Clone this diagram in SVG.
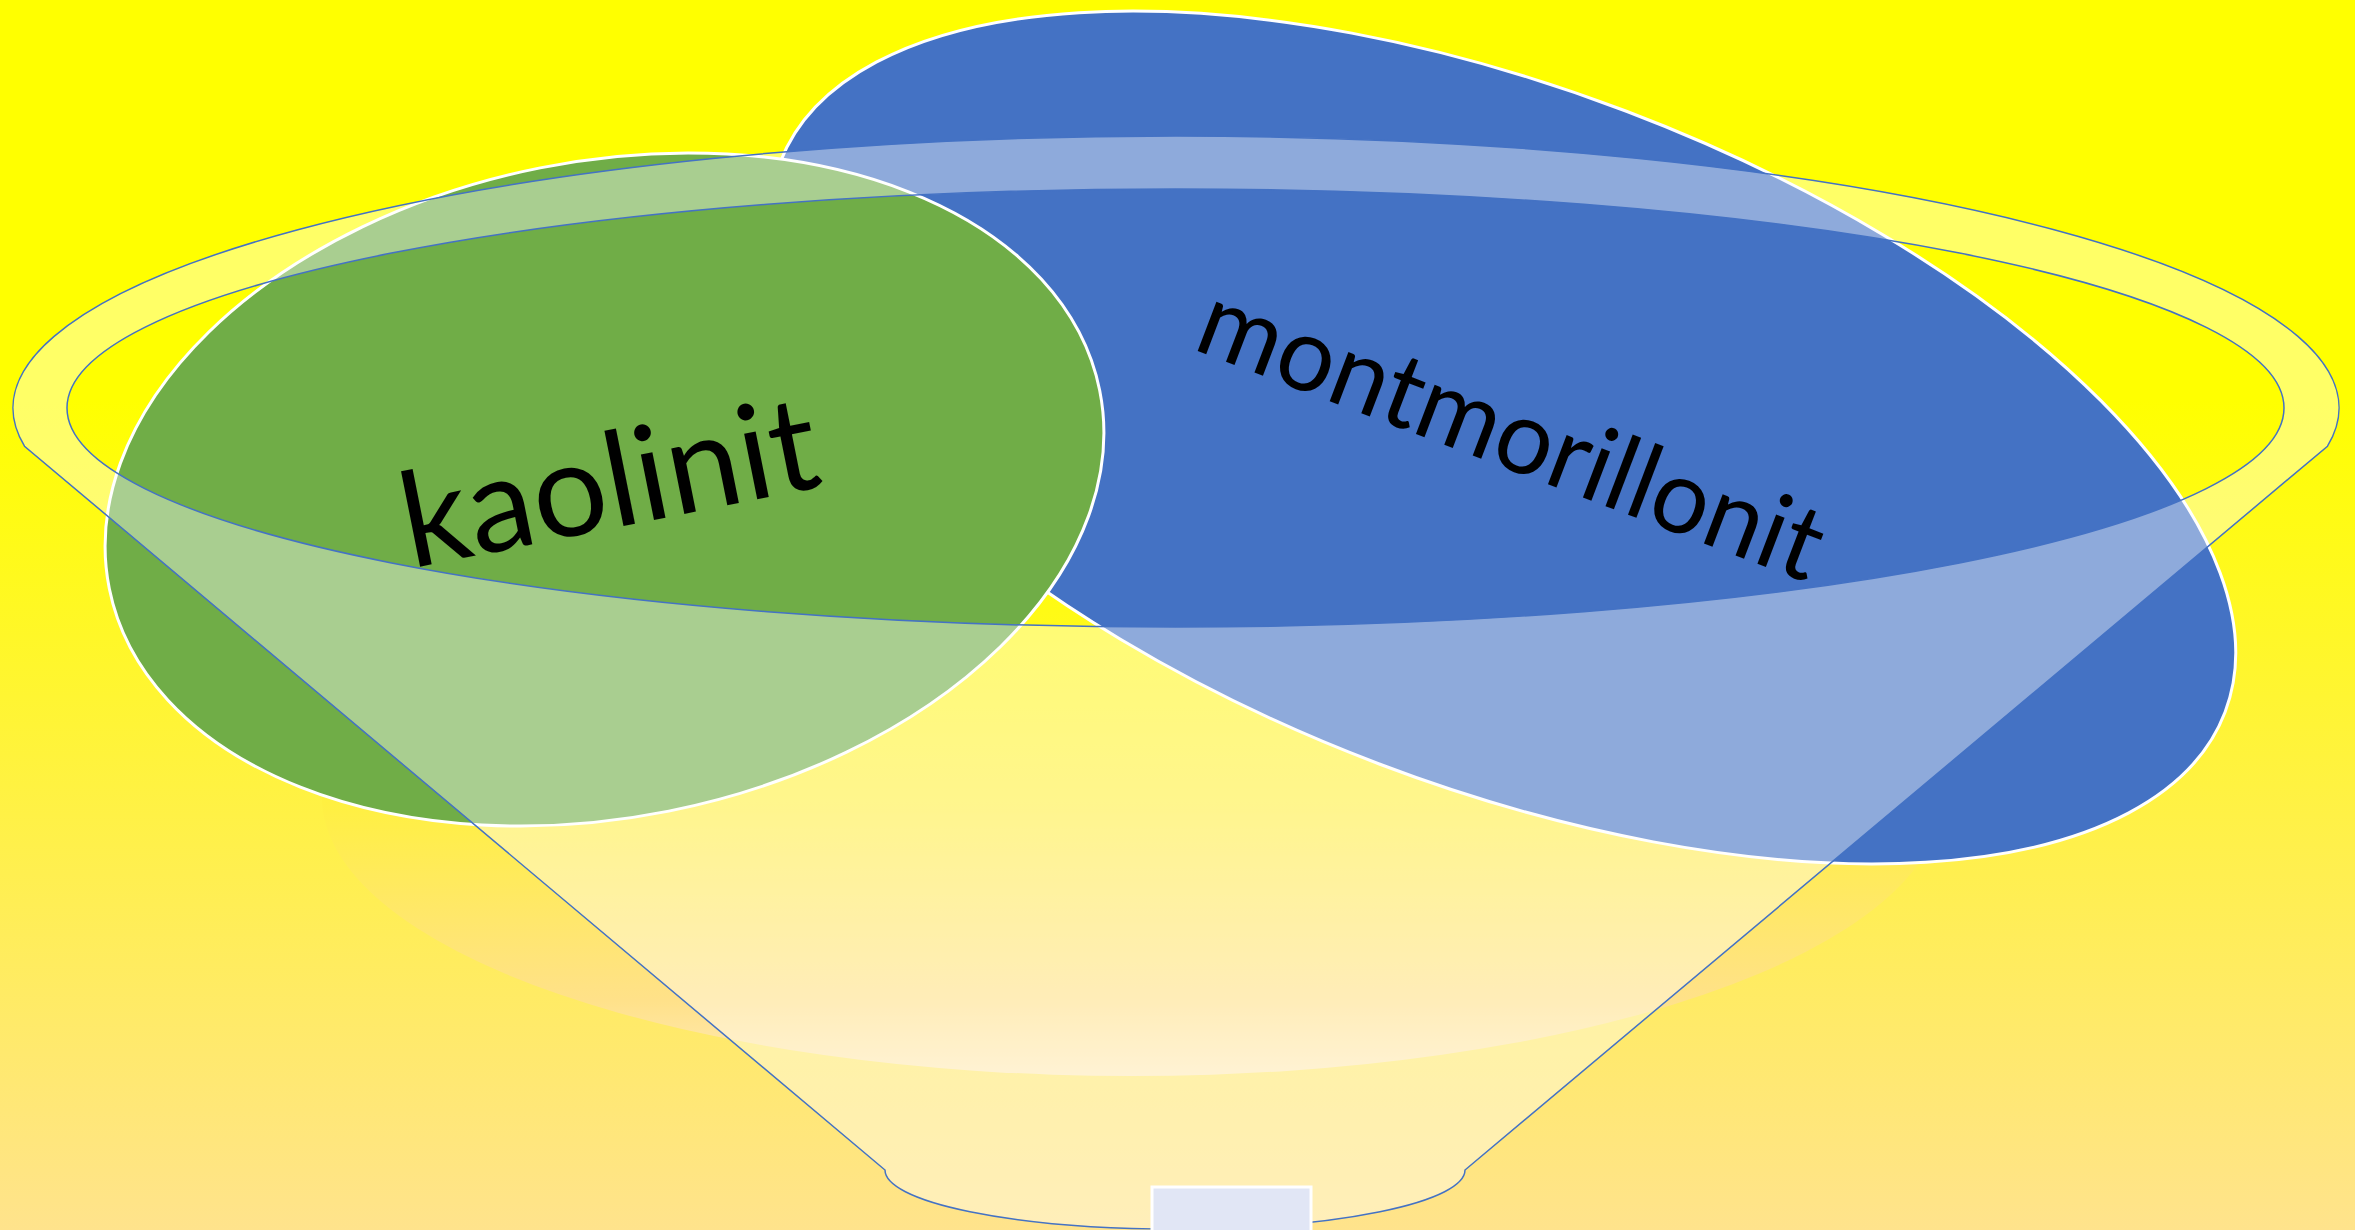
<svg xmlns="http://www.w3.org/2000/svg" width="2355" height="1230" viewBox="0 0 2355 1230">
  <defs>
    <linearGradient id="bg" gradientUnits="userSpaceOnUse" x1="0" y1="0" x2="0" y2="1230">
      <stop offset="0" stop-color="#FFFF00"/>
      <stop offset="0.325" stop-color="#FFFF00"/>
      <stop offset="1" stop-color="#FFE38C"/>
    </linearGradient>
    <linearGradient id="bowl" gradientUnits="userSpaceOnUse" x1="0" y1="518" x2="0" y2="1076">
      <stop offset="0" stop-color="#FFFF00"/>
      <stop offset="0.505" stop-color="#FFF040"/>
      <stop offset="0.864" stop-color="#FFE189"/>
      <stop offset="1" stop-color="#FFEAB8"/>
    </linearGradient>
    <style>
      .blob { stroke: #FFFFFF; stroke-width: 3; }
      .label { font-family: Lato, "Open Sans", "Liberation Sans", sans-serif; fill: #000000; text-anchor: middle; }
      .funnel { fill: #FFFFFF; fill-opacity: 0.4; fill-rule: evenodd; stroke: #4472C4; stroke-width: 1.5; }
    </style>
  </defs>

  <rect x="0" y="0" width="2355" height="1230" fill="url(#bg)"/>
  <ellipse id="bowl-shadow" cx="1132" cy="797" rx="810" ry="279" fill="url(#bowl)"/>

  <g id="montmorillonit">
    <ellipse class="blob" cx="1502.5" cy="437.5" rx="773" ry="349" transform="rotate(20.8 1502.5 437.5)" fill="#4472C4"/>
    <text class="label" font-size="104" textLength="659" lengthAdjust="spacingAndGlyphs" transform="translate(1499 465.6) rotate(20.8)" x="0" y="0">montmorillonit</text>
  </g>

  <g id="kaolinit">
    <ellipse class="blob" cx="604.5" cy="489.5" rx="505" ry="328" transform="rotate(-11.3 604.5 489.5)" fill="#70AD47"/>
    <text class="label" font-size="132" textLength="422" lengthAdjust="spacingAndGlyphs" transform="translate(617.8 527.2) rotate(-11.3)" x="0" y="0">kaolinit</text>
  </g>

  <g id="funnel">
    <path class="funnel" d="M 24.5 446.2 A 1163 272 0 1 1 2327.5 446.2 L 1465 1170 A 290 59 0 0 1 885 1170 Z M 67 408 A 1108.5 219 0 1 0 2284 408 A 1108.5 219 0 1 0 67 408 Z"/>
  </g>

  <g id="stem-block">
    <rect x="1152" y="1187" width="159" height="60" fill="#E1E6F5" stroke="#FFFFFF" stroke-width="3"/>
  </g>

  <g id="connectors"></g>
</svg>
